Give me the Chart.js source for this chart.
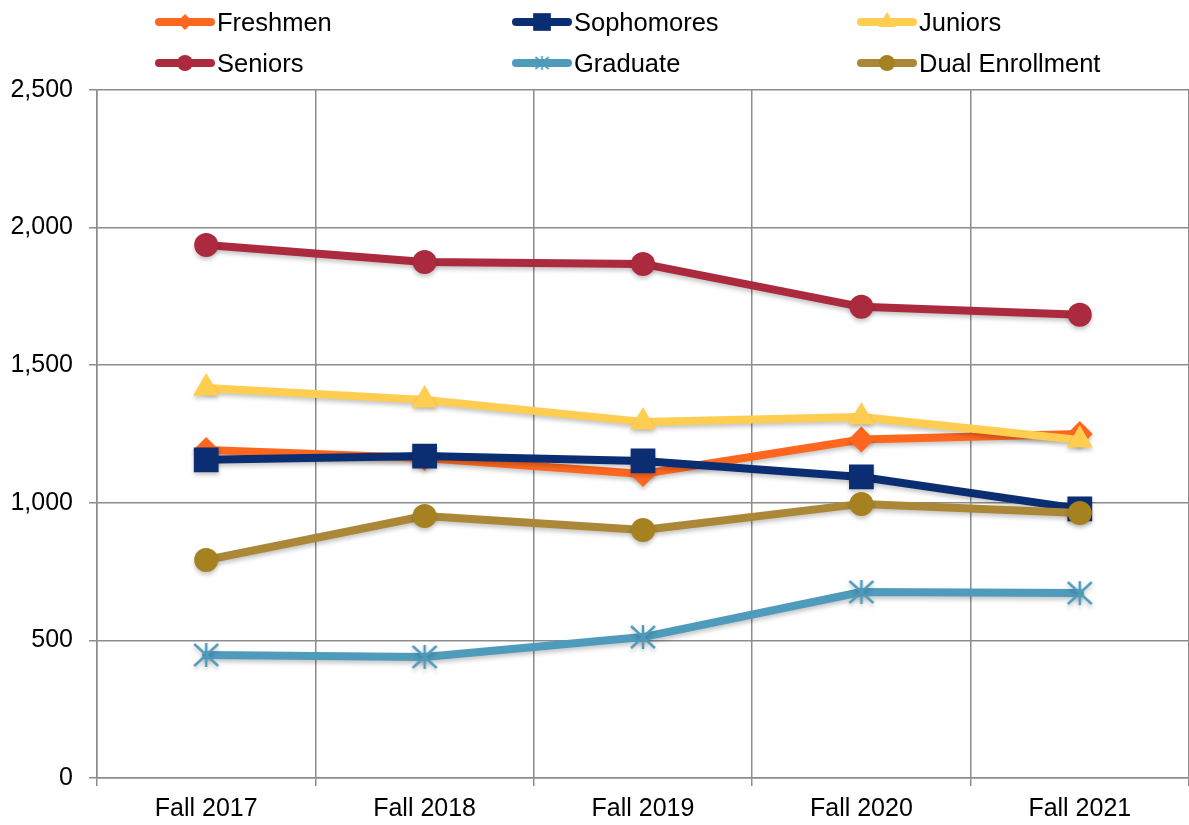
<!DOCTYPE html>
<html>
<head>
<meta charset="utf-8">
<script src="https://cdn.jsdelivr.net/npm/chart.js@4/dist/chart.umd.min.js"></script>
<style>
  html, body { margin: 0; padding: 0; background: #fff; overflow: hidden; }
  #wrap { position: relative; width: 1189px; height: 825px; }
  #enrollChart { display: block; }
  #legend { position: absolute; left: 0; top: 0; width: 1189px; height: 85px; font-family: "Liberation Sans", Arial, sans-serif; font-size: 25.5px; color: #000; }
  .item { position: absolute; display: flex; align-items: center; height: 30px; }
  .item canvas { margin-right: 2px; }
</style>
</head>
<body>
<div id="wrap">
  <canvas id="enrollChart" width="1189" height="825"></canvas>
  <div id="legend"></div>
</div>
<script>
// Κατηγορίες και τιμές (εκτίμηση από την εικόνα)
const terms = ['Fall 2017', 'Fall 2018', 'Fall 2019', 'Fall 2020', 'Fall 2021'];
const freshmen = [1192, 1163, 1105, 1230, 1250];
const sophomores = [1156, 1170, 1152, 1094, 978];
const juniors = [1417, 1374, 1294, 1312, 1228];
const seniors = [1937, 1875, 1868, 1712, 1683];
const graduate = [447, 440, 512, 676, 672];
const dualEnrollment = [792, 952, 901, 996, 963];
const yTicks = [0, 500, 1000, 1500, 2000, 2500];

const font = "'Liberation Sans', Arial, sans-serif";

// αστερίσκος χωρίς οριζόντια γραμμή (όπως στο Excel)
function asterisk(w, h, color, lw) {
    const c = document.createElement('canvas');
    c.width = w; c.height = h;
    const g = c.getContext('2d');
    g.strokeStyle = color;
    g.lineWidth = lw;
    g.beginPath();
    g.moveTo(w / 2, 1); g.lineTo(w / 2, h - 1);
    g.moveTo(2, 2); g.lineTo(w - 2, h - 2);
    g.moveTo(w - 2, 2); g.lineTo(2, h - 2);
    g.stroke();
    return c;
}

const gradColor = '#4e9bbb';
const series = [
    { label: 'Freshmen', data: freshmen, color: '#ff671f', fill: '#ff671f', style: 'rectRot', r: 13, lr: 8 },
    { label: 'Sophomores', data: sophomores, color: '#0b2d72', fill: '#0b2d72', style: 'rect', r: 17.5, lr: 12.5 },
    { label: 'Juniors', data: juniors, color: '#ffcd50', fill: '#ffcd50', style: 'triangle', r: 15, lr: 10 },
    { label: 'Seniors', data: seniors, color: '#ab2a3e', fill: '#ab2a3e', style: 'circle', r: 12, lr: 8 },
    { label: 'Graduate', data: graduate, color: gradColor, fill: gradColor, style: asterisk(28, 26, gradColor, 2.5), r: 13, lr: 0, legendStyle: asterisk(17, 16, gradColor, 1.8) },
    { label: 'Dual Enrollment', data: dualEnrollment, color: '#ab8837', fill: '#a6811f', style: 'circle', r: 12, lr: 8 }
];

const datasets = series.map((s, i) => ({
    label: s.label,
    data: s.data,
    borderColor: s.color,
    backgroundColor: s.fill,
    borderWidth: 8,
    borderCapStyle: 'round',
    borderJoinStyle: 'round',
    pointStyle: s.style,
    pointRadius: s.r,
    pointBorderWidth: 0,
    pointBorderColor: s.color,
    pointBackgroundColor: s.fill,
    tension: 0,
    order: series.length - i
}));

// σκιά κάτω από τους δείκτες
const markerShadow = {
    id: 'markerShadow',
    beforeDatasetDraw(chart) {
        const ctx = chart.ctx;
        ctx.save();
        ctx.shadowColor = 'rgba(0,0,0,0.22)';
        ctx.shadowBlur = 4;
        ctx.shadowOffsetY = 3;
    },
    afterDatasetDraw(chart) {
        chart.ctx.restore();
    }
};

const ctx = document.getElementById('enrollChart').getContext('2d');
new Chart(ctx, {
    type: 'line',
    data: { labels: terms, datasets: datasets },
    plugins: [markerShadow],
    options: {
        responsive: false,
        animation: false,
        layout: { autoPadding: false, padding: { top: 90, left: 0, right: 0, bottom: 0 } },
        plugins: { legend: { display: false }, tooltip: { enabled: false } },
        scales: {
            x: {
                offset: true,
                grid: { offset: true, color: '#8c8c8c', lineWidth: 1.5, tickLength: 8 },
                border: { color: '#8c8c8c', width: 1.5 },
                ticks: { color: '#000', padding: 8, font: { family: font, size: 25 } },
                afterFit(scale) {
                    scale.height = 47;
                    scale.paddingLeft = 0;
                    scale.paddingRight = 0;
                }
            },
            y: {
                min: 0,
                max: 2500,
                afterBuildTicks(scale) { scale.ticks = yTicks.map(v => ({ value: v })); },
                grid: { color: '#8c8c8c', lineWidth: 1.5, tickLength: 8 },
                border: { color: '#8c8c8c', width: 1.5 },
                ticks: { color: '#000', padding: 16, font: { family: font, size: 25 } },
                afterFit(scale) {
                    scale.width = 97;
                    scale.paddingTop = 0;
                    scale.paddingBottom = 0;
                }
            }
        }
    }
});

// Υπόμνημα σε τρεις στήλες
const legendEl = document.getElementById('legend');
const colLeft = [155, 512, 857];
const rowTop = [7, 48];
series.forEach((s, i) => {
    const item = document.createElement('div');
    item.className = 'item';
    item.style.left = colLeft[i % 3] + 'px';
    item.style.top = rowTop[Math.floor(i / 3)] + 'px';
    const c = document.createElement('canvas');
    c.width = 60; c.height = 30;
    const g = c.getContext('2d');
    g.strokeStyle = s.color;
    g.lineWidth = 8;
    g.lineCap = 'round';
    g.beginPath(); g.moveTo(4, 15); g.lineTo(56, 15); g.stroke();
    g.fillStyle = s.fill;
    if (s.legendStyle) {
        g.drawImage(s.legendStyle, 30 - s.legendStyle.width / 2, 15 - s.legendStyle.height / 2);
    } else {
        Chart.helpers.drawPoint(g, { pointStyle: s.style, radius: s.lr, borderWidth: 0 }, 30, 15);
    }
    item.appendChild(c);
    const t = document.createElement('span');
    t.textContent = s.label;
    item.appendChild(t);
    legendEl.appendChild(item);
});
</script>
</body>
</html>
